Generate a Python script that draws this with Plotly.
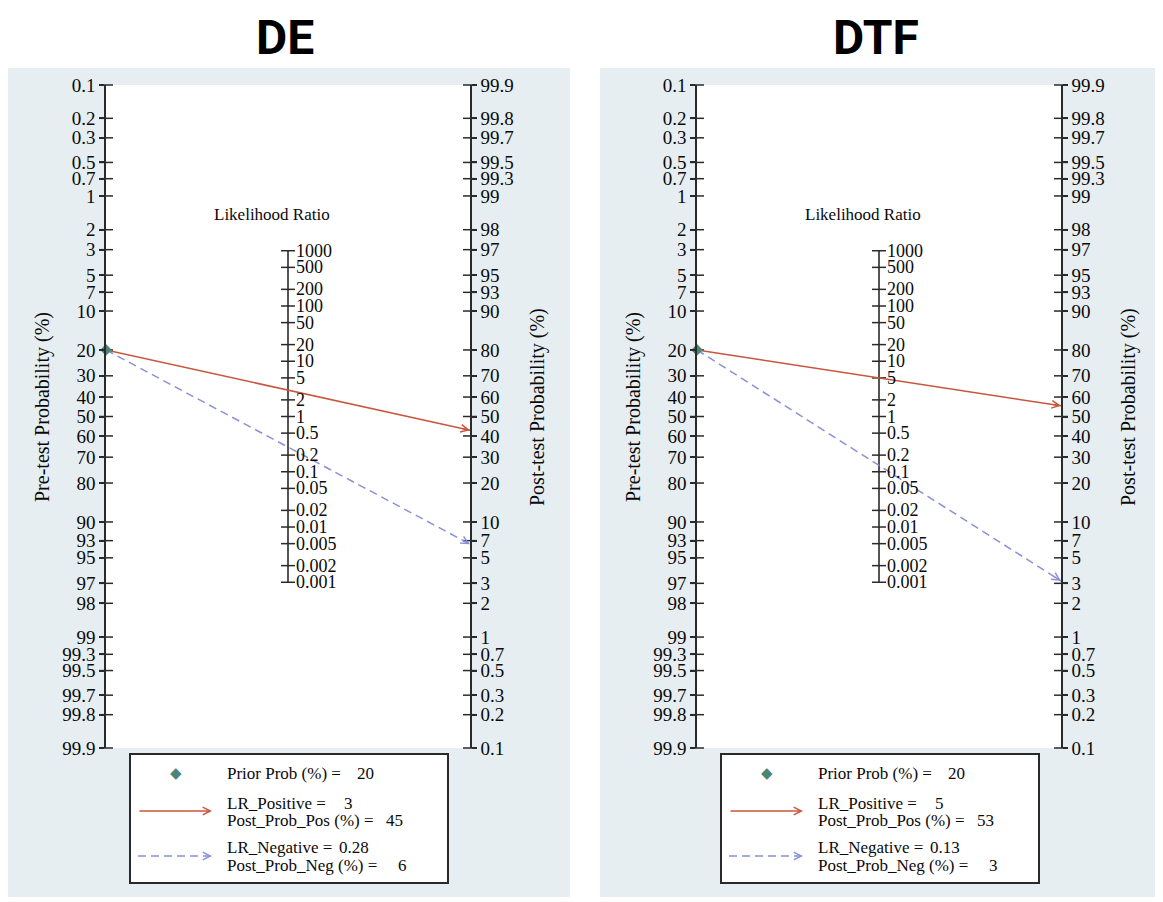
import math
import plotly.graph_objects as go

# ---------------- data ----------------
panel_titles = ["DE", "DTF"]
prior_prob = [20, 20]            # %
lr_positive = [3, 5]
post_prob_pos = [45, 53]         # %
lr_negative = [0.28, 0.13]
post_prob_neg = [6, 3]           # %

prob_ticks = [0.1, 0.2, 0.3, 0.5, 0.7, 1, 2, 3, 5, 7, 10, 20, 30, 40, 50,
              60, 70, 80, 90, 93, 95, 97, 98, 99, 99.3, 99.5, 99.7, 99.8, 99.9]
lr_ticks = [1000, 500, 200, 100, 50, 20, 10, 5, 2, 1, 0.5, 0.2, 0.1, 0.05,
            0.02, 0.01, 0.005, 0.002, 0.001]

legend_labels = ["Prior Prob (%) =", "LR_Positive =", "Post_Prob_Pos (%) =",
                 "LR_Negative =", "Post_Prob_Neg (%) ="]

# ---------------- style / layout ----------------
PAGE_OFF = 8                      # default body margin of the page
W, H = 1163 - PAGE_OFF, 902 - PAGE_OFF
BG = "#e6eef2"
AX = "#2a2a2a"
TXT = "#0a0a0a"
RED = "#c8553d"
BLUE = "#8c90d8"
GREEN = "#4a8576"
SERIF = "Liberation Serif, Times New Roman, serif"
TFONT = "Roboto, DejaVu Sans Condensed, sans-serif"
offsets = [0, 591]
AXL, AXR, TOP, BOT = 106, 470, 85, 748


def px(x):
    return (x - PAGE_OFF) / W


def py(y):
    return 1 - (y - PAGE_OFF) / H


def logit(p):
    return math.log(p / (1 - p))


vmax = logit(max(prob_ticks) / 100)

fig = go.Figure()
shapes = []
annotations = []

# white gaps around the two grey panels
for (x0, y0, x1, y1) in [(0, 0, 1163, 68), (570, 0, 600, 902),
                         (1160, 0, 1163, 902), (0, 897, 1163, 902)]:
    shapes.append(dict(type="rect", xref="paper", yref="paper", x0=px(x0), x1=px(x1),
                       y0=py(y1), y1=py(y0), fillcolor="white", line_width=0, layer="below"))

layout_axes = {}
tickfont = dict(family=SERIF, size=19, color=TXT)
for i in range(2):
    off = offsets[i]
    xname = "x" if i == 0 else "x2"
    yname = "y" if i == 0 else "y3"
    y2name = "y2" if i == 0 else "y4"
    xkey = "xaxis" if i == 0 else "xaxis2"
    ykey = "yaxis" if i == 0 else "yaxis3"
    y2key = "yaxis2" if i == 0 else "yaxis4"

    layout_axes[xkey] = dict(domain=[px(AXL + off), px(AXR + off)], range=[0, 1],
                             visible=False, fixedrange=True, anchor=yname, automargin=False)
    common = dict(range=[-vmax, vmax], anchor=xname, showline=True, linecolor=AX,
                  linewidth=1.6, showgrid=False, zeroline=False, ticks="outside",
                  ticklen=5, tickwidth=1.5, tickcolor=AX, tickmode="array",
                  ticktext=[f"{p:g}" for p in prob_ticks], tickfont=tickfont,
                  automargin=False, fixedrange=True)
    layout_axes[ykey] = dict(domain=[py(BOT), py(TOP)], side="left",
                             tickvals=[-logit(p / 100) for p in prob_ticks], **common)
    layout_axes[y2key] = dict(domain=[py(BOT), py(TOP)], overlaying=yname, side="right",
                              tickvals=[logit(p / 100) for p in prob_ticks], **common)

    # cross ticks on the probability axes
    fig.add_trace(go.Scatter(x=[0] * len(prob_ticks), y=[-logit(p / 100) for p in prob_ticks],
                             mode="markers", xaxis=xname, yaxis=yname, cliponaxis=False,
                             marker=dict(symbol="line-ew", size=10, line=dict(width=1.5, color=AX)),
                             hoverinfo="skip", showlegend=False))
    fig.add_trace(go.Scatter(x=[1] * len(prob_ticks), y=[logit(p / 100) for p in prob_ticks],
                             mode="markers", xaxis=xname, yaxis=y2name, cliponaxis=False,
                             marker=dict(symbol="line-ew", size=10, line=dict(width=1.5, color=AX)),
                             hoverinfo="skip", showlegend=False))
    # likelihood ratio axis
    lr_v = [math.log(l) / 2 for l in lr_ticks]
    fig.add_trace(go.Scatter(x=[0.5] * len(lr_ticks), y=lr_v, mode="lines+markers",
                             xaxis=xname, yaxis=yname, cliponaxis=False,
                             line=dict(color=AX, width=1.6),
                             marker=dict(symbol="line-ew", size=10, line=dict(width=1.5, color=AX)),
                             hoverinfo="skip", showlegend=False))
    for l, v in zip(lr_ticks, lr_v):
        annotations.append(dict(x=0.5, y=v, xref=xname, yref=yname, text=f"{l:g}",
                                showarrow=False, xanchor="left", yanchor="middle", xshift=6,
                                font=dict(family=SERIF, size=18, color=TXT)))

    # nomogram lines
    vL = -logit(prior_prob[i] / 100)
    prior_odds = prior_prob[i] / (100 - prior_prob[i])
    for lr, col, dash in [(lr_positive[i], RED, "solid"), (lr_negative[i], BLUE, "8px,5px")]:
        vR = math.log(prior_odds * lr)
        fig.add_trace(go.Scatter(x=[0, 1], y=[vL, vR], mode="lines", xaxis=xname, yaxis=yname,
                                 line=dict(color=col, width=1.5, dash=dash),
                                 hoverinfo="skip", showlegend=False))
        annotations.append(dict(x=1, y=vR, xref=xname, yref=yname, ax=0.975,
                                ay=vL + (vR - vL) * 0.975, axref=xname, ayref=yname,
                                text="", showarrow=True, arrowhead=5, arrowsize=1,
                                arrowwidth=1.5, arrowcolor=col, standoff=0))
    fig.add_trace(go.Scatter(x=[0], y=[vL], mode="markers", xaxis=xname, yaxis=yname,
                             cliponaxis=False,
                             marker=dict(symbol="diamond", size=9, color=GREEN),
                             hoverinfo="skip", showlegend=False))

    # texts
    annotations.append(dict(x=px(285 + off), y=py(38), xref="paper", yref="paper",
                            text=f"<b>{panel_titles[i]}</b>", showarrow=False,
                            xanchor="center", yanchor="middle",
                            font=dict(family=TFONT, size=48, color="black")))
    annotations.append(dict(x=px(272 + off), y=py(215), xref="paper", yref="paper",
                            text="Likelihood Ratio", showarrow=False,
                            xanchor="center", yanchor="middle",
                            font=dict(family=SERIF, size=17, color=TXT)))
    annotations.append(dict(x=px(42 + off), y=py(407), xref="paper", yref="paper",
                            text="Pre-test Probability (%)", showarrow=False, textangle=-90,
                            xanchor="center", yanchor="middle",
                            font=dict(family=SERIF, size=20, color=TXT)))
    annotations.append(dict(x=px(537 + off), y=py(407), xref="paper", yref="paper",
                            text="Post-test Probability (%)", showarrow=False, textangle=-90,
                            xanchor="center", yanchor="middle",
                            font=dict(family=SERIF, size=20, color=TXT)))

    # legend box
    shapes.append(dict(type="rect", xref="paper", yref="paper", x0=px(130 + off),
                       x1=px(448 + off), y0=py(883), y1=py(754), fillcolor="white",
                       line=dict(color=AX, width=2), layer="above"))
    lfont = dict(family=SERIF, size=17, color=TXT)
    values = [prior_prob[i], lr_positive[i], post_prob_pos[i], lr_negative[i], post_prob_neg[i]]
    rows_y = [773, 803, 820, 847, 865]
    vals_x = [376, 355, 405, 371, 409]
    for lab, val, yy, xx in zip(legend_labels, values, rows_y, vals_x):
        annotations.append(dict(x=px(225 + off), y=py(yy), xref="paper", yref="paper",
                                text=lab, showarrow=False, xanchor="left", yanchor="middle",
                                font=lfont))
        annotations.append(dict(x=px(xx + off), y=py(yy), xref="paper", yref="paper",
                                text=f"{val:g}", showarrow=False, xanchor="right",
                                yanchor="middle", font=lfont))
    # legend symbols
    annotations.append(dict(x=px(176 + off), y=py(773), xref="paper", yref="paper",
                            text="\u25c6", showarrow=False, xanchor="center", yanchor="middle",
                            font=dict(family="DejaVu Sans", size=15, color=GREEN)))
    annotations.append(dict(x=px(212 + off), y=py(811), xref="paper", yref="paper",
                            ax=-74, ay=0, text="", showarrow=True, arrowhead=5, arrowsize=1,
                            arrowwidth=1.5, arrowcolor=RED, standoff=0))
    shapes.append(dict(type="line", xref="paper", yref="paper", x0=px(138 + off),
                       x1=px(206 + off), y0=py(856), y1=py(856),
                       line=dict(color=BLUE, width=1.5, dash="8px,5px"), layer="above"))
    annotations.append(dict(x=px(212 + off), y=py(856), xref="paper", yref="paper",
                            ax=-8, ay=0, text="", showarrow=True, arrowhead=5, arrowsize=1,
                            arrowwidth=1.5, arrowcolor=BLUE, standoff=0))

fig.update_layout(template="none", width=W, height=H,
                  margin=dict(l=0, r=0, t=0, b=0, pad=0, autoexpand=False),
                  paper_bgcolor=BG, plot_bgcolor="white", showlegend=False,
                  shapes=shapes, annotations=annotations, **layout_axes)

fig.write_html("out.html")
